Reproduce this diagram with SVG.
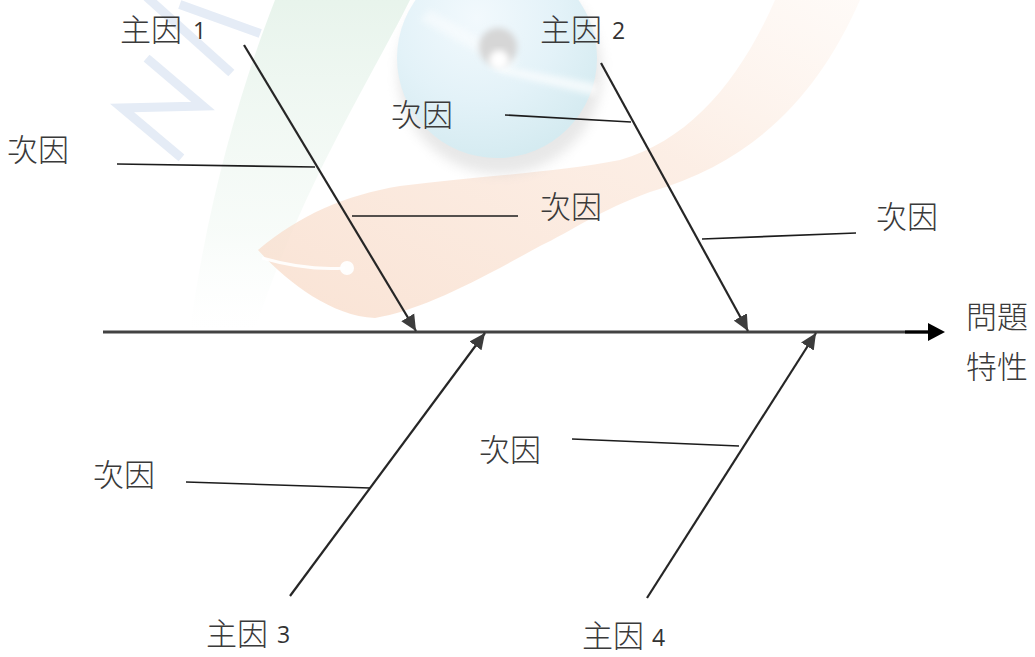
<svg xmlns="http://www.w3.org/2000/svg" width="1035" height="657" viewBox="0 0 1035 657">
  <style>
    .cjk { font-family: "Noto Sans CJK TC", "Noto Sans CJK SC", sans-serif; font-size: 31px; font-weight: 300; fill: #3a3a3a; }
    .num { font-family: "Open Sans", "Noto Sans", sans-serif; font-size: 23px; font-weight: 400; fill: #333; }
    .spine { stroke: #424242; stroke-width: 3; fill: none; }
    .bone { stroke: #262626; stroke-width: 2.2; fill: none; marker-end: url(#ah); }
    .twig { stroke: #1c1c1c; stroke-width: 1.6; fill: none; }
  </style>
  <defs>
    <marker id="ah" markerUnits="userSpaceOnUse" viewBox="0 0 17 16" markerWidth="17" markerHeight="16" refX="16" refY="8" orient="auto">
      <path d="M0,0.5 L16,8 L0,15.5 Z" fill="#3c3c3c"/>
    </marker>
    <filter id="soft" x="-20%" y="-20%" width="140%" height="140%">
      <feGaussianBlur stdDeviation="6"/>
    </filter>
    <filter id="soft2" x="-20%" y="-20%" width="140%" height="140%">
      <feGaussianBlur stdDeviation="3"/>
    </filter>
    <radialGradient id="discFill" cx="0.4" cy="0.3" r="0.75">
      <stop offset="0" stop-color="#f2f9fd"/>
      <stop offset="0.55" stop-color="#e3f2f8"/>
      <stop offset="1" stop-color="#d3eaf0"/>
    </radialGradient>
    <linearGradient id="greenBand" x1="0" y1="0" x2="0" y2="1">
      <stop offset="0" stop-color="#e2f1e7" stop-opacity="0.8"/>
      <stop offset="0.7" stop-color="#eef7f1" stop-opacity="0.45"/>
      <stop offset="1" stop-color="#f6fbf8" stop-opacity="0"/>
    </linearGradient>
    <linearGradient id="orangeBand" x1="0" y1="1" x2="1" y2="0">
      <stop offset="0" stop-color="#f8dcca" stop-opacity="0.8"/>
      <stop offset="0.6" stop-color="#fbe7da" stop-opacity="0.7"/>
      <stop offset="1" stop-color="#fdf1e8" stop-opacity="0.35"/>
    </linearGradient>
  </defs>

  <rect width="1035" height="657" fill="#ffffff"/>

  <!-- faint watermark artwork behind the chart -->
  <g id="watermark">
    <!-- green sweep -->
    <path d="M275,0 L410,0 C370,80 300,190 255,330 L190,330 C208,200 240,90 275,0 Z" fill="url(#greenBand)"/>
    <!-- pale blue letter strokes -->
    <g stroke="#e5ecf6" stroke-width="9" fill="none" stroke-linecap="square">
      <path d="M184,6 L256,32"/>
      <path d="M150,61 L203,106 L122,108 L178,155"/>
      <path d="M150,0 L228,70"/>
    </g>
    <!-- orange swoosh -->
    <path d="M258,250 C300,215 345,195 400,186 C480,176 560,172 620,160 C690,140 740,80 775,0 L860,0 C820,90 760,160 650,192 C600,210 570,232 540,246 C470,285 420,310 375,318 C330,316 285,280 258,250 Z" fill="url(#orangeBand)"/>
    <path d="M262,258 C290,266 320,270 345,268" stroke="#ffffff" stroke-width="3" fill="none" opacity="0.9"/>
    <circle cx="347" cy="268" r="7" fill="#ffffff" opacity="0.95"/>
    <!-- disc -->
    <ellipse cx="500" cy="72" rx="102" ry="102" fill="#cccccc" opacity="0.45" filter="url(#soft)"/>
    <circle cx="497" cy="58" r="100" fill="url(#discFill)"/>
    <path d="M500,66 L598,84 L596,96 L498,72 Z" fill="#ffffff" opacity="0.7" filter="url(#soft2)"/>
    <path d="M430,10 L520,60 L510,70 L420,20 Z" fill="#ffffff" opacity="0.45" filter="url(#soft2)"/>
    <circle cx="498" cy="47" r="19" fill="#d6d6d6" filter="url(#soft2)"/>
    <circle cx="499" cy="60" r="10" fill="#ffffff" filter="url(#soft2)"/>
  </g>

  <!-- connectors: spine, main bones and sub-cause twigs -->
  <g id="connectors">
    <line class="spine" x1="103" y1="332" x2="930" y2="332"/>
    <line x1="905" y1="332" x2="930" y2="332" stroke="#000" stroke-width="3"/>
    <path d="M928,323 L945,332 L928,341 Z" fill="#000"/>

    <line class="bone" x1="244" y1="45" x2="416" y2="331"/>
    <line class="bone" x1="601" y1="63" x2="748" y2="331"/>
    <line class="bone" x1="290" y1="596" x2="485" y2="333"/>
    <line class="bone" x1="647" y1="598" x2="816" y2="333"/>

    <line class="twig" x1="117" y1="164" x2="315" y2="167"/>
    <line class="twig" x1="352" y1="216" x2="518" y2="216"/>
    <line class="twig" x1="505" y1="115" x2="631" y2="122"/>
    <line class="twig" x1="702" y1="239" x2="856" y2="233"/>
    <line class="twig" x1="186" y1="482" x2="370" y2="488"/>
    <line class="twig" x1="572" y1="439" x2="739" y2="446"/>
  </g>

  <!-- main causes -->
  <g id="main1"><text class="cjk" x="120" y="41">主因</text><text class="num" x="193" y="39">1</text></g>
  <g id="main2"><text class="cjk" x="540" y="41">主因</text><text class="num" x="612" y="39">2</text></g>
  <g id="main3"><text class="cjk" x="206" y="645">主因</text><text class="num" x="277" y="643">3</text></g>
  <g id="main4"><text class="cjk" x="582" y="647">主因</text><text class="num" x="652" y="646">4</text></g>

  <!-- sub causes -->
  <g id="sub1a"><text class="cjk" x="7" y="161">次因</text></g>
  <g id="sub1b"><text class="cjk" x="540" y="218">次因</text></g>
  <g id="sub2a"><text class="cjk" x="391" y="126">次因</text></g>
  <g id="sub2b"><text class="cjk" x="876" y="228">次因</text></g>
  <g id="sub3"><text class="cjk" x="93" y="486">次因</text></g>
  <g id="sub4"><text class="cjk" x="479" y="461">次因</text></g>

  <!-- effect at the head -->
  <g id="effect">
    <text class="cjk" x="966" y="328">問題</text>
    <text class="cjk" x="966" y="378">特性</text>
  </g>
</svg>
